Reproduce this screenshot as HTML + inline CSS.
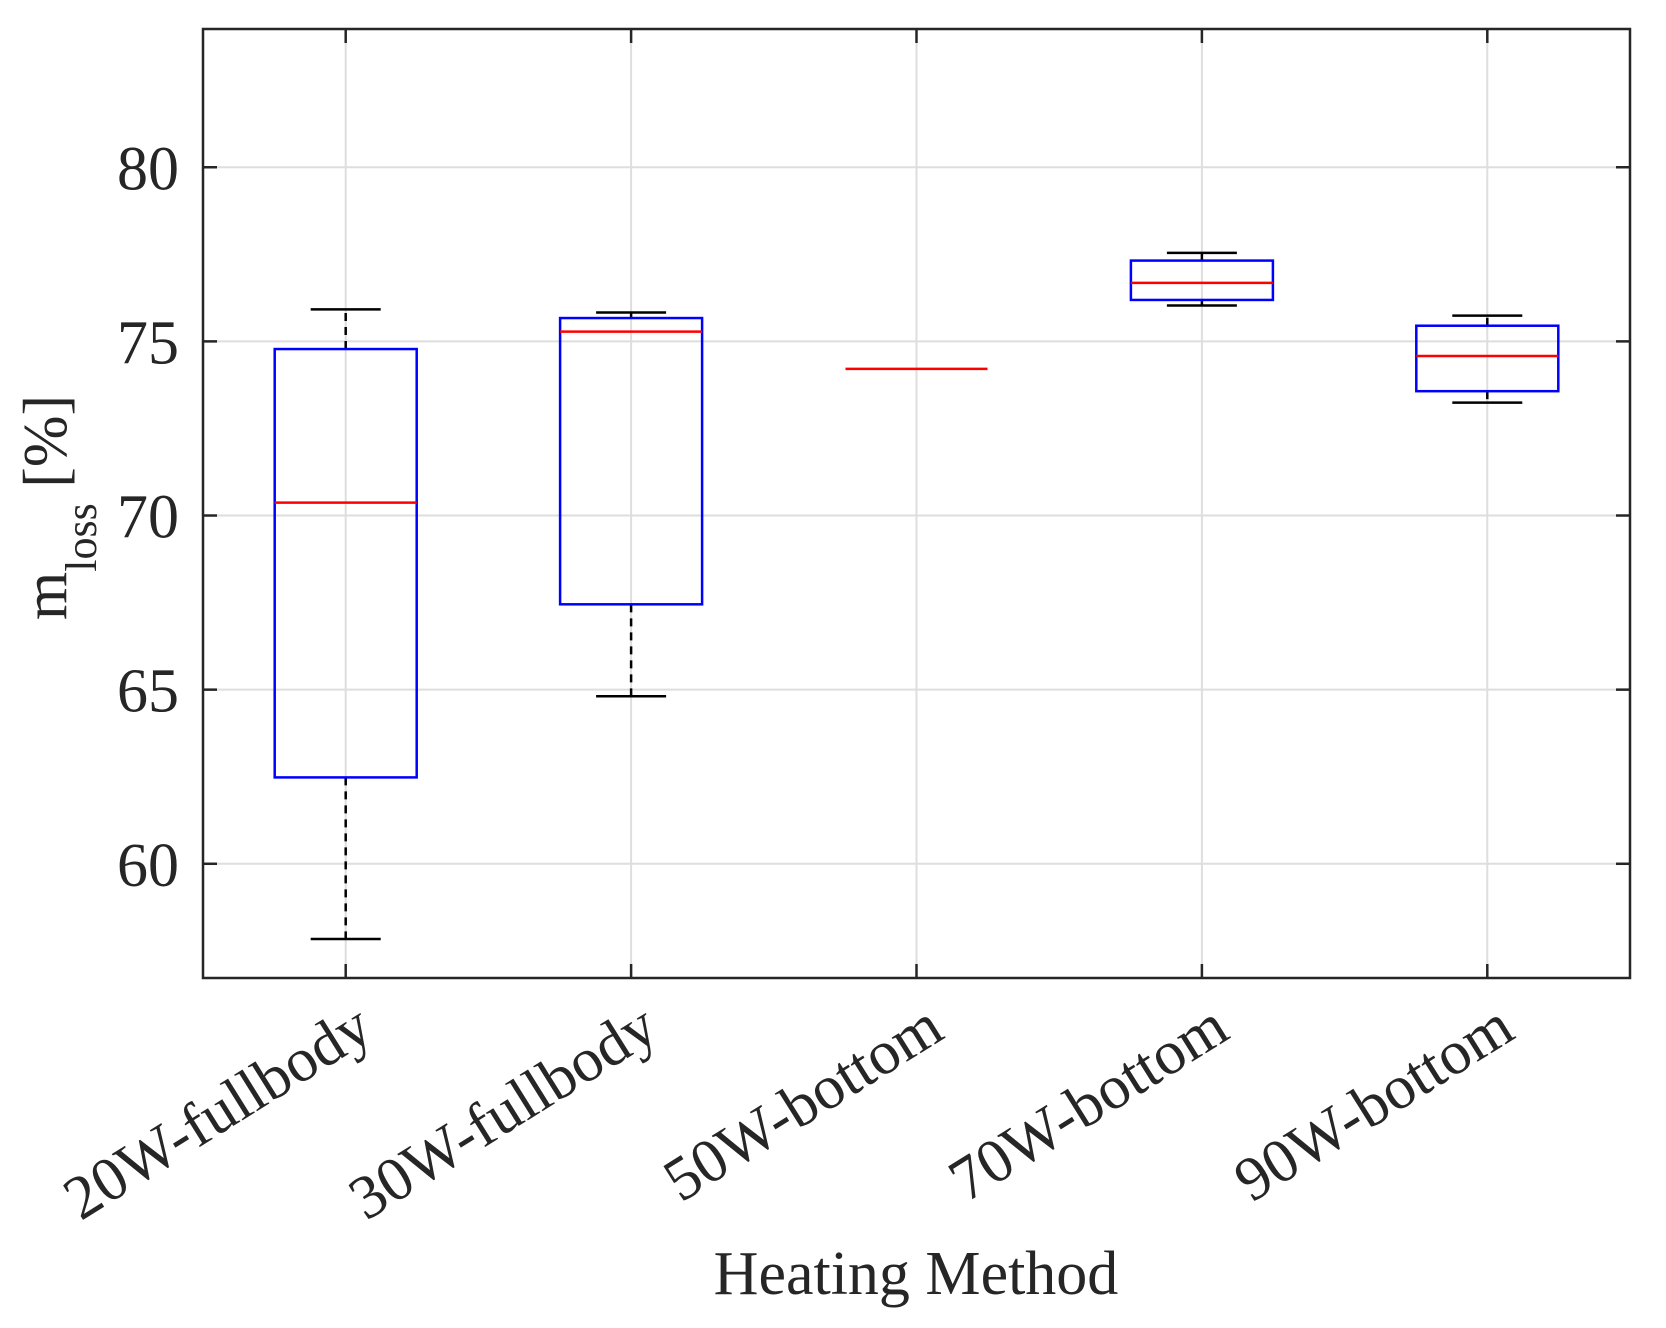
<!DOCTYPE html>
<html><head><meta charset="utf-8"><style>
html,body{margin:0;padding:0;background:#fff;}
svg{display:block;}
text{font-family:"Liberation Serif",serif;fill:#262626;}
</style></head><body>
<svg id="chart" width="1666" height="1328" viewBox="0 0 1666 1328" xmlns="http://www.w3.org/2000/svg">
<g id="grid"></g>
<g id="boxes"></g>
<g id="axes"></g>
<text transform="translate(66,620) rotate(-90)" font-size="62">m<tspan font-size="44" dy="30">loss</tspan><tspan dy="-30"> [%]</tspan></text>
<text x="916" y="1294" font-size="62" text-anchor="middle">Heating Method</text>
</svg>
<script>
const categories = ["20W-fullbody","30W-fullbody","50W-bottom","70W-bottom","90W-bottom"];
const whiskerHigh = [75.92, 75.83, 74.21, 77.54, 75.74];
const q3 = [74.78, 75.67, 74.21, 77.32, 75.45];
const medians = [70.37, 75.28, 74.21, 76.68, 74.58];
const q1 = [62.48, 67.45, 74.21, 76.19, 73.57];
const whiskerLow = [57.84, 64.81, 74.21, 76.03, 73.24];
const yTicks = [60, 65, 70, 75, 80];

const L=203, R=1630, T=29, B=978;
const yMin=56.72, yMax=83.97;
const NS="http://www.w3.org/2000/svg";
function y(v){return B-(v-yMin)/(yMax-yMin)*(B-T);}
const step=(R-L)/categories.length;
function x(i){return L+step*(i+0.5);}
function mk(tag,attrs,parent){const e=document.createElementNS(NS,tag);for(const k in attrs)e.setAttribute(k,attrs[k]);parent.appendChild(e);return e;}
const grid=document.getElementById('grid'), boxes=document.getElementById('boxes'), axes=document.getElementById('axes');

yTicks.forEach(t=>{
  const g=mk('line',{x1:L,x2:R,y1:y(t),y2:y(t),stroke:'#dedede','stroke-width':2},grid);
  
  
  const tl=mk('line',{x1:L,x2:L+14,y1:y(t),y2:y(t),stroke:'#262626','stroke-width':2.5},axes);
  
  
  const tr=mk('line',{x1:R,x2:R-14,y1:y(t),y2:y(t),stroke:'#262626','stroke-width':2.5},axes);
  
  
  const lb=mk('text',{x:179,y:y(t)+22,'font-size':62,'text-anchor':'end'},axes);
  lb.textContent=t;
  
  
});
categories.forEach((c,i)=>{
  const cx=x(i);
  const g=mk('line',{x1:cx,x2:cx,y1:T,y2:B,stroke:'#dedede','stroke-width':2},grid);
  
  
  const tb=mk('line',{x1:cx,x2:cx,y1:B,y2:B-14,stroke:'#262626','stroke-width':2.5},axes);
  
  
  const tt=mk('line',{x1:cx,x2:cx,y1:T,y2:T+14,stroke:'#262626','stroke-width':2.5},axes);
  
  
  const lb=mk('text',{'font-size':62,'text-anchor':'end',transform:`translate(${cx+30},1037) rotate(-32)`},axes);
  lb.textContent=c;
  
  

  const grp=mk('g',{},boxes);
  
  
  const hw=71, cw=35;
  if(whiskerHigh[i]>q3[i]){
    mk('line',{x1:cx,x2:cx,y1:y(q3[i]),y2:y(whiskerHigh[i]),stroke:'#000','stroke-width':2.5,'stroke-dasharray':'8 6'},grp);
    mk('line',{x1:cx-cw,x2:cx+cw,y1:y(whiskerHigh[i]),y2:y(whiskerHigh[i]),stroke:'#000','stroke-width':2.5},grp);
  }
  if(whiskerLow[i]<q1[i]){
    mk('line',{x1:cx,x2:cx,y1:y(q1[i]),y2:y(whiskerLow[i]),stroke:'#000','stroke-width':2.5,'stroke-dasharray':'8 6'},grp);
    mk('line',{x1:cx-cw,x2:cx+cw,y1:y(whiskerLow[i]),y2:y(whiskerLow[i]),stroke:'#000','stroke-width':2.5},grp);
  }
  if(q3[i]>q1[i]){
    mk('rect',{x:cx-hw,y:y(q3[i]),width:2*hw,height:y(q1[i])-y(q3[i]),fill:'none',stroke:'#0000ff','stroke-width':2.5},grp);
  }
  mk('line',{x1:cx-hw,x2:cx+hw,y1:y(medians[i]),y2:y(medians[i]),stroke:'#ff0000','stroke-width':2.5},grp);
});
const fr=mk('rect',{x:L,y:T,width:R-L,height:B-T,fill:'none',stroke:'#262626','stroke-width':2.5},axes);


</script>
</body></html>
